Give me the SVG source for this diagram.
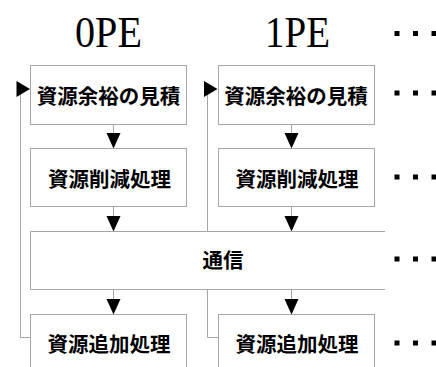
<svg xmlns="http://www.w3.org/2000/svg" width="436" height="367" viewBox="0 0 436 367">
<defs>
<style>
.box{fill:#fff;stroke:#a6a6a6;stroke-width:1}
.ln{fill:none;stroke:#a6a6a6;stroke-width:1}
.ah{fill:#000}
.dot{fill:#000}
.t{font-family:"Noto Sans CJK JP","Noto Sans CJK SC",sans-serif;font-size:20.5px;font-weight:bold;text-anchor:middle;fill:#000}
.h{font-family:"Liberation Serif","Times New Roman",serif;font-size:44px;text-anchor:middle;fill:#000}
</style>
</defs>
<rect width="436" height="367" fill="#fff"/>
<g id="connectors">
<polyline class="ln" points="30.5,337.5 20.5,337.5 20.5,89"/>
<polygon class="ah" points="16.5,81 16.5,97 30,89"/>
<polyline class="ln" points="218.5,337.5 207.5,337.5 207.5,89"/>
<polygon class="ah" points="204,81 204,97 217.5,89"/>
<line class="ln" x1="113.5" y1="124.5" x2="113.5" y2="134"/>
<polygon class="ah" points="106.5,133 120.5,133 113.5,148.5"/>
<line class="ln" x1="291.5" y1="124.5" x2="291.5" y2="134"/>
<polygon class="ah" points="284.5,133 298.5,133 291.5,148.5"/>
<line class="ln" x1="113.5" y1="206.5" x2="113.5" y2="216"/>
<polygon class="ah" points="106.5,216 120.5,216 113.5,231.5"/>
<line class="ln" x1="291.5" y1="206.5" x2="291.5" y2="216"/>
<polygon class="ah" points="284.5,216 298.5,216 291.5,231.5"/>
<line class="ln" x1="113.5" y1="289.5" x2="113.5" y2="299"/>
<polygon class="ah" points="106.5,299 120.5,299 113.5,314.5"/>
<line class="ln" x1="291.5" y1="289.5" x2="291.5" y2="299"/>
<polygon class="ah" points="284.5,299 298.5,299 291.5,314.5"/>
</g>
<g id="header0"><text class="h" x="108.5" y="47" textLength="67" lengthAdjust="spacingAndGlyphs">0PE</text></g>
<g id="header1"><text class="h" x="297.5" y="47" textLength="65" lengthAdjust="spacingAndGlyphs">1PE</text></g>
<g id="n0a"><rect class="box" x="30.5" y="65.5" width="156" height="59"/><text class="t" x="108.5" y="104">資源余裕の見積</text></g>
<g id="n1a"><rect class="box" x="218.5" y="65.5" width="156" height="59"/><text class="t" x="296" y="104">資源余裕の見積</text></g>
<g id="n0b"><rect class="box" x="30.5" y="148.5" width="156" height="58"/><text class="t" x="109.5" y="187">資源削減処理</text></g>
<g id="n1b"><rect class="box" x="218.5" y="148.5" width="156" height="58"/><text class="t" x="297" y="187">資源削減処理</text></g>
<g id="comm"><path class="box" d="M385,231.5 H30.5 V289.5 H385"/><rect x="31" y="232" width="354" height="57" fill="#fff"/><text class="t" x="223" y="268">通信</text></g>
<g id="n0c"><rect class="box" x="30.5" y="314.5" width="156" height="60"/><text class="t" x="109" y="352">資源追加処理</text></g>
<g id="n1c"><rect class="box" x="218.5" y="314.5" width="156" height="60"/><text class="t" x="297" y="352">資源追加処理</text></g>
<g id="dots">
<rect class="dot" x="394.5" y="31" width="5" height="5"/><rect class="dot" x="413" y="31" width="5" height="5"/><rect class="dot" x="431.5" y="31" width="5" height="5"/>
<rect class="dot" x="394.5" y="90.5" width="5" height="5"/><rect class="dot" x="413" y="90.5" width="5" height="5"/><rect class="dot" x="431.5" y="90.5" width="5" height="5"/>
<rect class="dot" x="394.5" y="174.5" width="5" height="5"/><rect class="dot" x="413" y="174.5" width="5" height="5"/><rect class="dot" x="431.5" y="174.5" width="5" height="5"/>
<rect class="dot" x="394.5" y="256.5" width="5" height="5"/><rect class="dot" x="413" y="256.5" width="5" height="5"/><rect class="dot" x="431.5" y="256.5" width="5" height="5"/>
<rect class="dot" x="394.5" y="340.5" width="5" height="5"/><rect class="dot" x="413" y="340.5" width="5" height="5"/><rect class="dot" x="431.5" y="340.5" width="5" height="5"/>
</g>
</svg>
